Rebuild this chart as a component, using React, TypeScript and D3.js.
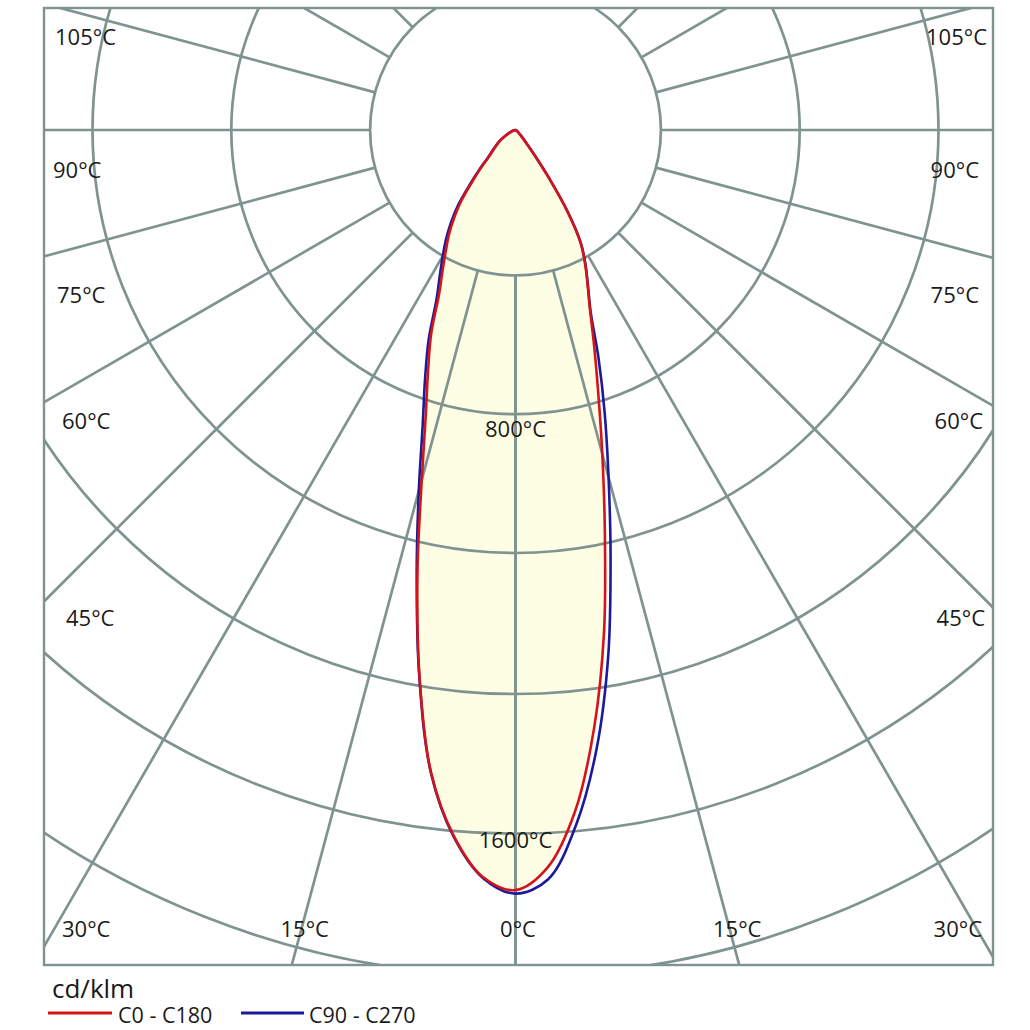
import React from "react";
import * as d3 from "d3";

// ---- Data (cd/klm) ----
const GAMMA = [0, 2.5, 5, 7.5, 10, 12.5, 15, 17.5, 20, 22.5, 25, 27.5, 30, 32.5, 35, 37.5, 40, 42.5, 45, 50, 55, 60, 70, 80, 90];
// C0 - C180 plane (red)
const C0 = [1725, 1675, 1552, 1368, 1157, 937, 761, 624, 522, 442, 387, 342, 295, 220, 128, 65, 35, 22, 15, 8, 5, 3, 1, 0, 0];
const C180 = [1725, 1697, 1608, 1470, 1256, 1028, 822, 677, 580, 500, 410, 358, 316, 281, 242, 201, 152, 115, 85, 60, 44, 28, 10, 3, 0];
// C90 - C270 plane (blue)
const C90 = [1733, 1702, 1582, 1414, 1212, 997, 816, 673, 551, 445, 389, 344, 297, 221, 128, 66, 36, 22, 15, 8, 5, 3, 1, 0, 0];
const C270 = [1733, 1699, 1610, 1471, 1258, 1036, 848, 700, 600, 515, 424, 372, 330, 293, 254, 212, 160, 120, 88, 62, 45, 28, 10, 3, 0];

const RING_VALUES = [330, 645, 960, 1280, 1597, 1920, 2240];
const RAY_ANGLES = [0, 15, 30, 45, 60, 75, 90, 105, 120, 135, 150, 165, 180];
const ANGLE_LABELS = [105, 90, 75, 60, 45, 30, 15, 0];
const RADIAL_LABELS = ["800°C", "1600°C"];
const UNIT = "cd/klm";
const LEGEND = ["C0 - C180", "C90 - C270"];

// ---- Layout / style ----
const W = 1030;
const H = 1030;
const FRAME = { left: 44, top: 8, right: 993, bottom: 965 };
const CX = 515.5;
const CY = 130;
const GRID = "#7f9390";
const RED = "#d41418";
const BLUE = "#1a1a9c";
const FILL = "#fefee4";
const TEXT = "#1a1a1a";
const FONT = "'Open Sans', 'Noto Sans', sans-serif";

const rScale = d3.scaleLinear().domain([0, 1600]).range([0, 705]);
const rad = (deg: number) => (deg * Math.PI) / 180;

function planePath(right: number[], left: number[], close: boolean) {
  const pts: [number, number][] = [];
  for (let i = GAMMA.length - 1; i >= 1; i--) pts.push([Math.PI + rad(GAMMA[i]), left[i]]);
  for (let i = 0; i < GAMMA.length; i++) pts.push([Math.PI - rad(GAMMA[i]), right[i]]);
  const line = d3
    .lineRadial<[number, number]>()
    .angle((d) => d[0])
    .radius((d) => rScale(d[1]))
    .curve(d3.curveCatmullRom.alpha(0.5));
  return (line(pts) || "") + (close ? "Z" : "");
}

// label placement (text layout only)
const SIDE_Y: Record<number, number> = { 105: 36, 90: 169, 75: 294, 60: 420, 45: 617, 30: 928 };
const LEFT_X: Record<number, number> = { 105: 55, 90: 53, 75: 57, 60: 62, 45: 66, 30: 62 };
const RIGHT_X: Record<number, number> = { 105: 987, 90: 979, 75: 979, 60: 983, 45: 985, 30: 982 };
const BOTTOM_Y = 928;

export default function App() {
  const rings = RING_VALUES.map((v) => rScale(v));
  const r0 = rings[0];
  const rays: { x1: number; y1: number; x2: number; y2: number }[] = [];
  RAY_ANGLES.forEach((g) => {
    [1, -1].forEach((s) => {
      const a = Math.PI - s * rad(g);
      const p1 = d3.pointRadial(a, r0);
      const p2 = d3.pointRadial(a, 2000);
      rays.push({ x1: p1[0], y1: p1[1], x2: p2[0], y2: p2[1] });
    });
  });

  const redPath = planePath(C0, C180, true);
  const bluePath = planePath(C90, C270, true);

  const labels: { text: string; x: number; y: number; anchor: string }[] = [];
  ANGLE_LABELS.forEach((g) => {
    const text = `${g}°C`;
    if (g >= 30) {
      labels.push({ text, x: LEFT_X[g], y: SIDE_Y[g], anchor: "start" });
      labels.push({ text, x: RIGHT_X[g], y: SIDE_Y[g], anchor: "end" });
    } else if (g > 0) {
      const dx = (FRAME.bottom - CY) * Math.tan(rad(g));
      labels.push({ text, x: CX - dx + 13, y: BOTTOM_Y, anchor: "middle" });
      labels.push({ text, x: CX + dx - 2, y: BOTTOM_Y, anchor: "middle" });
    } else {
      labels.push({ text, x: CX + 2.5, y: BOTTOM_Y, anchor: "middle" });
    }
  });

  const radialLabelPos = [rings[1] + 14, rings[4] + 5];

  return (
    <div style={{ position: "absolute", left: 0, top: 0, width: W, height: H, background: "#fff" }}>
      <svg width={W} height={H} viewBox={`0 0 ${W} ${H}`} style={{ display: "block" }}>
        <defs>
          <clipPath id="frameClip">
            <rect x={FRAME.left} y={FRAME.top} width={FRAME.right - FRAME.left} height={FRAME.bottom - FRAME.top} />
          </clipPath>
        </defs>
        <rect x={0} y={0} width={W} height={H} fill="#fff" />
        <g clipPath="url(#frameClip)">
          <g transform={`translate(${CX},${CY})`}>
            <path d={redPath} fill={FILL} stroke="none" />
            {rings.map((r, i) => (
              <circle key={i} r={r} fill="none" stroke={GRID} strokeWidth={2.7} />
            ))}
            {rays.map((l, i) => (
              <line key={i} x1={l.x1} y1={l.y1} x2={l.x2} y2={l.y2} stroke={GRID} strokeWidth={2.7} />
            ))}
            <path d={bluePath} fill="none" stroke={BLUE} strokeWidth={2.6} strokeLinejoin="round" />
            <path d={redPath} fill="none" stroke={RED} strokeWidth={2.6} strokeLinejoin="round" />
          </g>
        </g>
        <rect
          x={FRAME.left}
          y={FRAME.top}
          width={FRAME.right - FRAME.left}
          height={FRAME.bottom - FRAME.top}
          fill="none"
          stroke={GRID}
          strokeWidth={2.4}
        />
        <g fontFamily={FONT} fontSize={22} fill={TEXT}>
          {labels.map((l, i) => (
            <text key={i} x={l.x} y={l.y} textAnchor={l.anchor} dominantBaseline="central">
              {l.text}
            </text>
          ))}
          {RADIAL_LABELS.map((t, i) => (
            <text key={"r" + i} x={CX} y={CY + radialLabelPos[i]} textAnchor="middle" dominantBaseline="central">
              {t}
            </text>
          ))}
        </g>
        <g fontFamily={FONT} fill={TEXT}>
          <text x={52} y={988} fontSize={26} dominantBaseline="central">
            {UNIT}
          </text>
          <line x1={48} y1={1013} x2={112} y2={1013} stroke={RED} strokeWidth={3} />
          <text x={118} y={1014.5} fontSize={21.5} dominantBaseline="central">
            {LEGEND[0]}
          </text>
          <line x1={241} y1={1013} x2={304} y2={1013} stroke={BLUE} strokeWidth={3} />
          <text x={309} y={1014.5} fontSize={21.5} dominantBaseline="central">
            {LEGEND[1]}
          </text>
        </g>
      </svg>
    </div>
  );
}
